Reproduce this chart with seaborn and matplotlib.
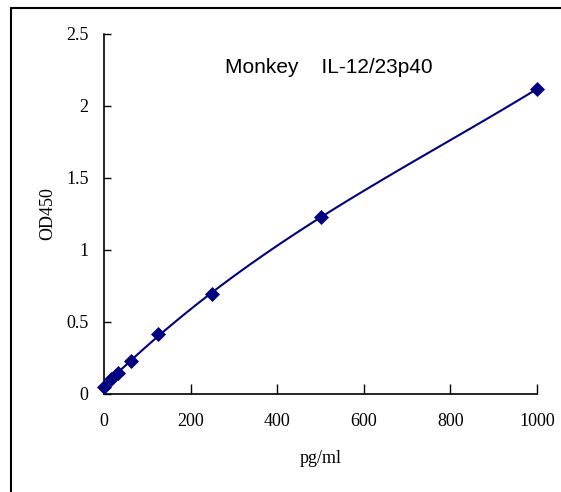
import matplotlib
matplotlib.use("Agg")
import matplotlib.pyplot as plt
import seaborn as sns
import pandas as pd
from matplotlib.lines import Line2D

# ── Data ───────────────────────────────────────────────────────────────────────
conc = [0, 15.6, 31.25, 62.5, 125, 250, 500, 1000]
od450 = [0.05, 0.104, 0.146, 0.23, 0.417, 0.694, 1.229, 2.118]
x_ticks = [0, 200, 400, 600, 800, 1000]
y_ticks = [0, 0.5, 1, 1.5, 2, 2.5]
y_tick_labels = ["0", "0.5", "1", "1.5", "2", "2.5"]

df = pd.DataFrame({"pg/ml": conc, "OD450": od450})

sns.set_style("white")
plt.rcParams["font.family"] = ["Liberation Serif", "DejaVu Serif"]
plt.rcParams["text.color"] = "black"
plt.rcParams["axes.labelcolor"] = "black"

fig = plt.figure(figsize=(5.61, 4.92), dpi=100)
ax = fig.add_axes([104 / 561, 1 - 394 / 492, 433 / 561, 360 / 492])

navy = "#000080"
# fitted standard curve
sns.regplot(data=df, x="pg/ml", y="OD450", order=3, ci=None, scatter=False,
            line_kws={"color": navy, "lw": 1.5}, ax=ax)
sns.scatterplot(data=df, x="pg/ml", y="OD450", marker="D", s=50,
                color=navy, edgecolor=navy, zorder=5, ax=ax, clip_on=False)

ax.set_xlim(0, 1000)
ax.set_ylim(0, 2.5)
ax.set_xticks(x_ticks)
ax.set_xticklabels([str(t) for t in x_ticks], fontsize=13)
ax.set_yticks(y_ticks)
ax.set_yticklabels(y_tick_labels, fontsize=13)
ax.tick_params(axis="x", direction="in", length=7, width=1, pad=14, colors="black")
ax.tick_params(axis="y", direction="in", length=5, width=1, pad=11, colors="black")
ax.tick_params(bottom=True, left=True)

for side in ["top", "right"]:
    ax.spines[side].set_visible(False)
for side in ["left", "bottom"]:
    ax.spines[side].set_color("black")
    ax.spines[side].set_linewidth(1.2)

ax.set_xlabel("pg/ml", fontsize=13, labelpad=14)
ax.set_ylabel("OD450", fontsize=13, labelpad=7)
ax.text(0.52, 0.906, "Monkey    IL-12/23p40", transform=ax.transAxes,
        ha="center", va="center", fontsize=15, color="black",
        family=["Liberation Sans", "DejaVu Sans"])

# outer frame (cropped at right and bottom)
fig.add_artist(Line2D([11 / 561, 11 / 561], [0, 1 - 8 / 492], color="black", lw=1.5))
fig.add_artist(Line2D([11 / 561, 1], [1 - 8 / 492, 1 - 8 / 492], color="black", lw=1.5))

fig.savefig("out.png", dpi=100)
plt.close(fig)
